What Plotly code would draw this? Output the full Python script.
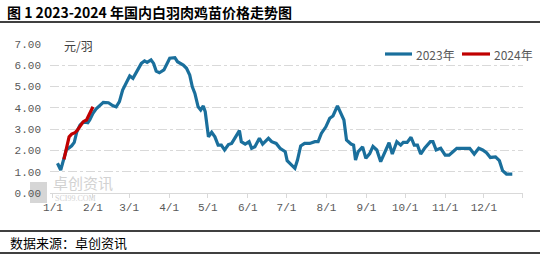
import plotly.graph_objects as go

# ---- data (day of year, price in 元/羽) ----
days_2023 = [3.5, 6, 8.5, 10.5, 12, 14.5, 16.5, 18.5, 21, 23, 25, 27, 28.5, 31, 33.5, 35, 39, 43, 46.5, 49,
             51.5, 54, 57, 59.5, 62, 65, 68.5, 71, 73, 76, 78, 80, 82.5, 86, 88, 90.5, 94.5, 96.5, 101, 103.5,
             106, 108, 110, 112.5, 114.5, 116.5, 118, 120.5, 123, 125.5, 128, 130.5, 133, 136, 138.5, 141,
             144.5, 146, 149, 152, 154, 156.5, 160, 162.5, 167, 169.5, 173, 176, 180, 181.5, 185, 187.5,
             189.5, 192, 195, 199, 203, 205.5, 208, 211.5, 214.5, 217, 220.5, 223, 225.5, 227.5, 231, 233,
             234.5, 236.5, 240, 242.5, 245.5, 248, 251, 254, 257, 260.5, 263, 266.5, 269.5, 271.5, 274.5,
             277.5, 280, 282.5, 285, 288, 292.5, 294.5, 297, 300.5, 304, 307, 310, 313, 323, 326.5, 330, 333,
             336, 339, 343, 346, 348.5, 351.5, 356]
price_2023 = [1.40, 1.08, 1.63, 2.05, 2.10, 2.22, 2.38, 2.88, 3.20, 3.30, 3.33, 3.30, 3.43, 3.74, 3.95, 4.05,
              4.26, 4.24, 4.10, 4.05, 4.29, 4.84, 5.23, 5.50, 5.39, 5.70, 6.09, 6.21, 6.14, 6.25, 6.09, 5.73,
              5.65, 5.78, 6.04, 6.33, 6.36, 6.17, 6.01, 5.86, 5.54, 4.99, 4.68, 4.05, 3.90, 4.09, 3.82, 2.64,
              2.85, 2.64, 2.25, 2.25, 2.02, 2.28, 2.33, 2.57, 2.93, 2.41, 2.30, 2.41, 2.10, 2.17, 2.57, 2.30,
              2.57, 2.41, 2.33, 2.10, 1.94, 1.52, 1.32, 1.16, 1.55, 2.21, 2.33, 2.33, 2.41, 2.41, 2.80, 3.11,
              3.51, 3.62, 4.09, 3.71, 3.43, 2.49, 2.30, 2.25, 1.55, 1.94, 2.17, 1.63, 1.85, 2.19, 2.02, 1.47,
              1.85, 2.36, 1.83, 2.41, 2.25, 2.38, 2.38, 2.62, 2.25, 2.25, 1.83, 2.10, 2.41, 2.41, 2.02, 2.10,
              1.78, 1.78, 1.94, 2.10, 2.10, 1.83, 2.10, 2.02, 1.89, 1.67, 1.70, 1.52, 1.05, 0.89, 0.89]
days_2024 = [8.5, 10.5, 12.5, 14.5, 17, 19, 21.5, 23.5, 26, 28.5, 31]
price_2024 = [1.58, 2.17, 2.64, 2.77, 2.83, 2.96, 3.19, 3.35, 3.43, 3.74, 4.05]

month_days = [0, 31, 59, 90, 120, 151, 181, 212, 243, 273, 304, 334]
month_labels = ["1/1", "2/1", "3/1", "4/1", "5/1", "6/1", "7/1", "8/1", "9/1", "10/1", "11/1", "12/1"]
y_ticks = [0, 1, 2, 3, 4, 5, 6, 7]

series_names = ["2023年", "2024年"]
BLUE = "#1a6f9c"
RED = "#c00000"

W, H = 540, 256
L, R, T, B = 50, 523, 44, 193  # plot area in pixels


def px(x):
    return (x - L) / (R - L)


def py(y):
    return (B - y) / (B - T)


fig = go.Figure()
fig.add_trace(go.Scatter(x=days_2023, y=price_2023, mode="lines", name=series_names[0],
                         line=dict(color=BLUE, width=3.2), showlegend=False))
fig.add_trace(go.Scatter(x=days_2024, y=price_2024, mode="lines", name=series_names[1],
                         line=dict(color=RED, width=3.2), showlegend=False))

tick_font = dict(family="Liberation Mono, DejaVu Sans Mono, monospace", size=11, color="#595959")

fig.update_layout(
    width=W, height=H,
    margin=dict(l=L, r=W - R, t=T, b=H - B),
    paper_bgcolor="white", plot_bgcolor="white",
    xaxis=dict(range=[-2.3, 364.3], tickvals=month_days + [364], ticktext=month_labels + [""],
               showgrid=False, zeroline=False, showline=True, linecolor="#d9d9d9", linewidth=1,
               ticks="outside", ticklen=4, tickcolor="#d9d9d9", tickfont=tick_font),
    yaxis=dict(range=[0, 7.001], tickvals=y_ticks, tickformat=".2f", showgrid=True,
               gridcolor="#d9d9d9", griddash="dashdot", gridwidth=1, zeroline=False,
               showline=False, ticks="", tickfont=tick_font, ticklabelstandoff=8),
)

shapes = []
annotations = []

# watermark (drawn first so it stays behind)
shapes.append(dict(type="rect", xref="paper", yref="paper", x0=px(30), x1=px(47), y0=py(203), y1=py(182),
                   fillcolor="#d6d6d6", line=dict(width=0), layer="below"))
annotations.append(dict(text="卓创资讯", x=px(51), y=py(182), xref="paper", yref="paper", xanchor="left",
                        yanchor="middle", showarrow=False,
                        font=dict(family="Noto Sans CJK SC", size=15, color="#d2d2d2")))
annotations.append(dict(text="SCI99.COM", x=px(53), y=py(198), xref="paper", yref="paper", xanchor="left",
                        yanchor="middle", showarrow=False,
                        font=dict(family="Liberation Serif", size=8, color="#d2d2d2")))

# title and separator lines
annotations.append(dict(text="<b>图 1 2023-2024 年国内白羽肉鸡苗价格走势图</b>", x=px(5), y=py(12),
                        xref="paper", yref="paper", xanchor="left", yanchor="middle", showarrow=False,
                        font=dict(family="Noto Sans CJK SC", size=14, color="#000000")))
for yy in (22, 231, 253):
    shapes.append(dict(type="line", xref="paper", yref="paper", x0=px(0), x1=px(540), y0=py(yy), y1=py(yy),
                       line=dict(color="#000000", width=1.3)))
annotations.append(dict(text="数据来源：卓创资讯", x=px(8), y=py(242), xref="paper", yref="paper",
                        xanchor="left", yanchor="middle", showarrow=False,
                        font=dict(family="Noto Sans CJK SC", size=13, color="#000000")))

# unit label
annotations.append(dict(text="元/羽", x=px(62), y=py(45), xref="paper", yref="paper", xanchor="left",
                        yanchor="middle", showarrow=False,
                        font=dict(family="Noto Sans CJK SC", size=12, color="#404040")))

# legend
leg = [(385, 412, 414, BLUE, series_names[0]), (462, 490, 492, RED, series_names[1])]
for x0, x1, tx, col, name in leg:
    shapes.append(dict(type="line", xref="paper", yref="paper", x0=px(x0), x1=px(x1), y0=py(54), y1=py(54),
                       line=dict(color=col, width=3.2)))
    annotations.append(dict(text=name, x=px(tx), y=py(54), xref="paper", yref="paper", xanchor="left",
                            yanchor="middle", showarrow=False,
                            font=dict(family="Noto Sans CJK SC", size=12, color="#595959")))

fig.update_layout(shapes=shapes, annotations=annotations)
fig.write_html("out.html")
